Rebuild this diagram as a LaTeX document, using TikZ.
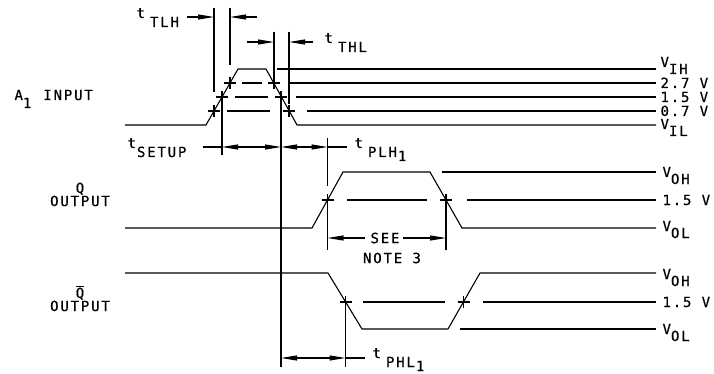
\documentclass[tikz,border=0pt]{standalone}
\usepackage{fontspec}
\setmainfont[LetterSpace=13, FakeBold=0.6]{DejaVu Sans Mono}
\usetikzlibrary{arrows.meta}

\newcommand{\tlab}[2][4pt]{t\hspace{#1}\raisebox{-9pt}{#2}}
\newcommand{\vlab}[1]{V\raisebox{-7pt}{#1}}

\begin{document}
\begin{tikzpicture}[x=1pt, y=-1pt, line width=1.1pt,
    >={Triangle[length=16pt, width=5pt]},
    lab/.style={inner sep=0pt, font=\fontsize{14}{12}\selectfont},
    lvl/.style={lab, anchor=base west},
    side/.style={lab, anchor=base},
    cross/.pic={\draw (-6,0) -- (6,0) (0,-6) -- (0,6);}]
  \useasboundingbox (0,0) rectangle (714,374);

  % A1 input
  \draw (125,125) -- (206,125) -- (238,69) -- (266,69) -- (297,125) -- (656,125);
  \draw (277,69) -- (656,69);
  \draw (242,83) -- (262,83) (288,83) -- (656,83);
  \draw (235,97) -- (268,97) (296,97) -- (656,97);
  \draw (227,111) -- (270,111) (307,111) -- (656,111);
  \foreach \cx/\cy in {230/83, 222/97, 214/111, 274/83, 281/97, 289/111}
    \pic at (\cx,\cy) {cross};

  % Q output
  \draw (125,228) -- (312,228) -- (343,172) -- (430,172) -- (462,228) -- (656,228);
  \draw (442,172) -- (656,172);
  \draw (347,200) -- (427,200) (467,200) -- (656,200);
  % Q bar output
  \draw (125,273) -- (328,273) -- (362,329) -- (448,329) -- (480,273) -- (656,273);
  \draw (460,329) -- (656,329);
  \draw (363,302) -- (445,302) (483,302) -- (656,302);
  \foreach \cx/\cy in {327.5/200, 446/200, 345.5/302, 463.5/302}
    \pic at (\cx,\cy) {cross};

  % extension lines
  \draw (214,8) -- (214,92);
  \draw (230,8) -- (230,65);
  \draw (274,32) -- (274,77);
  \draw (289,32) -- (289,104);
  \draw (222,103) -- (222,155);
  \draw (281,103) -- (281,367);
  \draw (327.5,138) -- (327.5,186) (327.5,206) -- (327.5,250);
  \draw (446,206) -- (446,250);
  \draw (345.5,308) -- (345.5,367);

  % timing arrows
  \draw[->] (187,17) -- (214,17);
  \draw[->] (257,17) -- (230,17);
  \draw[->] (247,42) -- (274,42);
  \draw[->] (313,42) -- (289,42);
  \draw (203,147) -- (222,147);
  \draw[<->] (222,147) -- (281,147);
  \draw[<->] (281,147) -- (327.5,147);
  \draw (327.5,147) -- (347,147);
  \draw[<-] (327.5,238) -- (365,238);
  \draw[->] (403,238) -- (446,238);
  \draw[<->] (281,358) -- (345.5,358);
  \draw (345.5,358) -- (365,358);

  % labels
  \node[lvl] (ttlh) at (136,18) {\tlab[5pt]{TLH}};
  \node[lvl] (tthl) at (324,43) {\tlab[5pt]{THL}};
  \node[lvl] (tsetup) at (127,148) {\tlab[1pt]{SETUP}};
  \node[lvl] (tplh) at (354,148) {\tlab[5pt]{PLH\hspace{1pt}\raisebox{-4pt}{1}}};
  \node[lvl] (tphl) at (372,358) {\tlab[5pt]{PHL\hspace{1pt}\raisebox{-4pt}{1}}};
  \node[lab] (see) at (385,238) {SEE};
  \node[lab] (note) at (392,258) {NOTE 3};

  \node[lvl] (ain) at (14,100) {A\raisebox{-8pt}{1}\hspace{12pt}INPUT};
  \node[side] (q) at (80,193) {Q};
  \node[side] (qout) at (80,206) {OUTPUT};
  \node[side] (qb) at (80,298) {$\overline{\mbox{Q}}$};
  \node[side] (qbout) at (80,311) {OUTPUT};

  \node[lvl] (vih) at (660,67) {\vlab{IH}};
  \node[lvl] (v27) at (660,88) {2.7 V};
  \node[lvl] (v15) at (660,102) {1.5 V};
  \node[lvl] (v07) at (660,116) {0.7 V};
  \node[lvl] (vil) at (660,129) {\vlab{IL}};
  \node[lvl] (voh) at (662,177) {\vlab{OH}};
  \node[lvl] (q15) at (662,205) {1.5 V};
  \node[lvl] (vol) at (662,231) {\vlab{OL}};
  \node[lvl] (vbh) at (662,279) {\vlab{OH}};
  \node[lvl] (qb15) at (662,307) {1.5 V};
  \node[lvl] (vbl) at (662,334) {\vlab{OL}};
\end{tikzpicture}
\end{document}
